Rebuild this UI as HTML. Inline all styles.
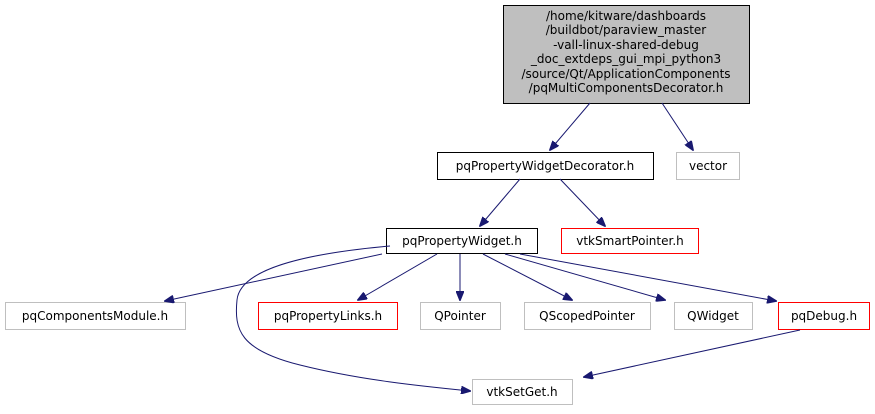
<!DOCTYPE html>
<html><head><meta charset="utf-8"><style>
html,body{margin:0;padding:0;background:#fff;}
svg text{font-family:"DejaVu Sans","Liberation Sans",sans-serif;font-size:12px;fill:#000;}
</style></head><body>
<svg width="875" height="409" viewBox="0 0 875 409" xmlns="http://www.w3.org/2000/svg">
<defs><marker id="a" markerWidth="10" markerHeight="8" refX="9" refY="4" orient="auto" markerUnits="userSpaceOnUse"><path d="M0,0 L10,4 L0,8 z" fill="#191970" stroke="#191970"/></marker></defs>
<g fill="#fff" stroke-width="1">
<rect x="503.5" y="5.5" width="246" height="98" fill="#bfbfbf" stroke="#000"/>
<rect x="437.5" y="152.5" width="216" height="27" stroke="#000"/>
<rect x="676.5" y="152.5" width="63" height="27" stroke="#bfbfbf"/>
<rect x="386.5" y="228.5" width="151" height="25" stroke="#000"/>
<rect x="561.5" y="228.5" width="137" height="25" stroke="#ff0000"/>
<rect x="5.5" y="302.5" width="180" height="27" stroke="#bfbfbf"/>
<rect x="258.5" y="302.5" width="139" height="27" stroke="#ff0000"/>
<rect x="420.5" y="302.5" width="80" height="27" stroke="#bfbfbf"/>
<rect x="524.5" y="302.5" width="126" height="27" stroke="#bfbfbf"/>
<rect x="674.5" y="302.5" width="78" height="27" stroke="#bfbfbf"/>
<rect x="778.5" y="302.5" width="91" height="27" stroke="#ff0000"/>
<rect x="472.5" y="379.5" width="100" height="25" stroke="#bfbfbf"/>
</g>
<g stroke="#191970" fill="none" marker-end="url(#a)">
<path d="M590,103 L550,150"/>
<path d="M662,103 L693,150"/>
<path d="M520,179 L480,226"/>
<path d="M560,179 L605,226"/>
<path d="M382,254 L165,301"/>
<path d="M437,254 L358,300"/>
<path d="M460,254 L460,300"/>
<path d="M483,254 L572,300"/>
<path d="M505,254 L665,300"/>
<path d="M520,254 L776,301"/>
<path d="M390,246 C300,254 240,270 237,300 C234,330 240,350 300,365 C360,380 420,386 470,391"/>
<path d="M800,330 L584,377"/>
</g>
<g text-anchor="middle">
<text x="626" y="20">/home/kitware/dashboards</text>
<text x="626" y="34">/buildbot/paraview_master</text>
<text x="626" y="49">-vall-linux-shared-debug</text>
<text x="626" y="63">_doc_extdeps_gui_mpi_python3</text>
<text x="626" y="78">/source/Qt/ApplicationComponents</text>
<text x="626" y="92">/pqMultiComponentsDecorator.h</text>
<text x="545" y="170">pqPropertyWidgetDecorator.h</text>
<text x="708" y="170">vector</text>
<text x="462" y="245">pqPropertyWidget.h</text>
<text x="630" y="245">vtkSmartPointer.h</text>
<text x="95" y="320">pqComponentsModule.h</text>
<text x="328" y="320">pqPropertyLinks.h</text>
<text x="460" y="320">QPointer</text>
<text x="587" y="320">QScopedPointer</text>
<text x="713" y="320">QWidget</text>
<text x="824" y="320">pqDebug.h</text>
<text x="522" y="396">vtkSetGet.h</text>
</g>
</svg>
</body></html>
